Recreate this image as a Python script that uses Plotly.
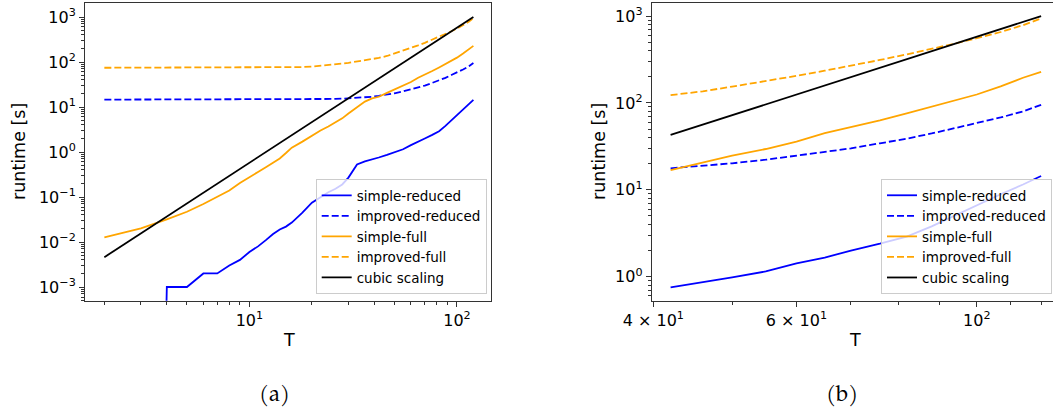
import plotly.graph_objects as go
import numpy as np

# ---------------- data ----------------
T = [2, 3, 4, 5, 6, 7, 8, 9, 10, 11, 12, 13, 14, 15, 16, 18, 20, 22, 24, 26, 28, 30,
     33, 36, 39, 42, 46, 50, 55, 60, 65, 70, 76, 82, 88, 94, 100, 107, 114, 120]

simple_reduced = [0, 0, 0.001, 0.001, 0.002, 0.002, 0.003, 0.004, 0.006, 0.008, 0.011,
                  0.015, 0.019, 0.022, 0.027, 0.045, 0.075, 0.10, 0.128, 0.152, 0.19, 0.27,
                  0.53, 0.62, 0.70, 0.755, 0.86, 0.98, 1.15, 1.42, 1.66, 2.0, 2.4, 2.9,
                  3.8, 5.1, 6.6, 8.9, 11.5, 14.4]

improved_reduced = [14.6, 14.6, 14.6, 14.6, 14.6, 14.6, 14.6, 14.6, 14.6, 14.6, 14.6,
                    14.6, 14.6, 14.6, 14.6, 14.7, 14.8, 14.9, 15.0, 15.1, 15.3, 15.5,
                    15.8, 16.3, 16.9, 17.7, 18.8, 20.2, 22.2, 24.6, 27.2, 30.0, 34.3, 38.8,
                    44.5, 51.5, 58.5, 68, 80, 95]

simple_full = [0.0127, 0.020, 0.032, 0.047, 0.070, 0.100, 0.14, 0.205, 0.27, 0.36, 0.46,
               0.58, 0.72, 0.95, 1.25, 1.7, 2.3, 3.0, 3.7, 4.6, 5.6, 7.2,
               10.0, 13.2, 15.5, 16.9, 20.6, 24.8, 29.5, 35.9, 44.8, 52.2, 63, 75.7,
               90, 107, 125, 155, 195, 228]

improved_full = [74.5, 74.5, 74.5, 74.5, 74.5, 74.5, 74.5, 74.5, 74.5, 74.5, 74.6,
                 74.7, 74.8, 75.1, 75.6, 77.2, 79.3, 82, 85, 88.5, 92, 96,
                 102, 108, 115, 123, 136, 154, 178, 205, 235, 267, 312, 362,
                 418, 482, 555, 655, 785, 940]

cubic_T = [2, 42, 120]
cubic_scaling = [0.0046, 42.8, 1000]

names = ["simple-reduced", "improved-reduced", "simple-full", "improved-full", "cubic scaling"]

y_ticks_a = [1e-3, 1e-2, 1e-1, 1, 10, 100, 1000]
y_ticktext_a = ["10<sup>−3</sup>", "10<sup>−2</sup>", "10<sup>−1</sup>", "10<sup>0</sup>",
                "10<sup>1</sup>", "10<sup>2</sup>", "10<sup>3</sup>"]
x_ticks_a = [10, 100]
x_ticktext_a = ["10<sup>1</sup>", "10<sup>2</sup>"]
y_ticks_b = [1, 10, 100, 1000]
y_ticktext_b = ["10<sup>0</sup>", "10<sup>1</sup>", "10<sup>2</sup>", "10<sup>3</sup>"]
x_ticks_b = [40, 60, 100]
x_ticktext_b = ["4 × 10<sup>1</sup>", "6 × 10<sup>1</sup>", "10<sup>2</sup>"]

# ---------------- styling ----------------
BLUE = "#0000ff"
ORANGE = "#ffa500"
BLACK = "#000000"
LW = 1.8
DASH = "7px,3px"
FONT = "DejaVu Sans"
TICK_FS = 16
LABEL_FS = 17.5
LEGEND_FS = 13.5

T_arr = np.array(T, dtype=float)


def clip_pos(v):
    v = np.array(v, dtype=float)
    # like matplotlib's log clipping: non-positive values go far below the axis
    return np.where(v > 0, v, 1e-30)


series = [
    (simple_reduced, BLUE, "solid"),
    (improved_reduced, BLUE, DASH),
    (simple_full, ORANGE, "solid"),
    (improved_full, ORANGE, DASH),
]

fig = go.Figure()

mask_b = T_arr >= 42
cT = np.array(cubic_T, dtype=float)
cV = np.array(cubic_scaling, dtype=float)

for panel, (xa, ya, leg) in enumerate([("x", "y", "legend"), ("x2", "y2", "legend2")]):
    for (vals, col, dash), nm in zip(series, names[:4]):
        v = clip_pos(vals)
        xs, ys = (T_arr, v) if panel == 0 else (T_arr[mask_b], v[mask_b])
        fig.add_trace(go.Scatter(x=xs, y=ys, mode="lines", name=nm,
                                 line=dict(color=col, width=LW, dash=dash),
                                 xaxis=xa, yaxis=ya, legend=leg))
    cm = cT >= (2 if panel == 0 else 42)
    fig.add_trace(go.Scatter(x=cT[cm], y=cV[cm], mode="lines", name=names[4],
                             line=dict(color=BLACK, width=LW),
                             xaxis=xa, yaxis=ya, legend=leg))

W, H = 1053, 414
y_dom = [(H - 300.7) / H, (H - 3) / H]


def minor_vals(lo, hi):
    out = []
    for e in range(lo, hi):
        for k in range(2, 10):
            out.append(k * 10.0 ** e)
    return out


axis_common = dict(type="log", showgrid=False, zeroline=False, showline=True,
                   linecolor="#333333", linewidth=1, mirror=True, ticks="outside",
                   ticklen=5, tickwidth=1, tickcolor="#333333", tickmode="array",
                   automargin=False,
                   tickfont=dict(family=FONT, size=TICK_FS, color="black"))

legend_common = dict(bgcolor="rgba(255,255,255,0.8)", bordercolor="#cccccc", borderwidth=1,
                     font=dict(family=FONT, size=LEGEND_FS, color="black"), itemwidth=30,
                     tracegroupgap=0)

fig.update_layout(
    template="none",
    width=W, height=H,
    margin=dict(l=0, r=0, t=0, b=0, pad=0, autoexpand=False),
    paper_bgcolor="white", plot_bgcolor="white",
    font=dict(family=FONT, size=13, color="black"),
    xaxis=dict(axis_common, domain=[85 / W, 491 / W], range=[0.2078, 2.164],
               tickvals=x_ticks_a, ticktext=x_ticktext_a, anchor="y",
               minor=dict(ticks="outside", ticklen=3, tickcolor="#333333",
                          tickvals=minor_vals(0, 2))),
    yaxis=dict(axis_common, domain=y_dom, range=[-3.304, 3.311],
               tickvals=y_ticks_a, ticktext=y_ticktext_a, anchor="x",
               minor=dict(ticks="outside", ticklen=3, tickcolor="#333333",
                          tickvals=minor_vals(-4, 3))),
    xaxis2=dict(axis_common, domain=[651.7 / W, 1.0], range=[1.600, 2.0938],
                tickvals=x_ticks_b, ticktext=x_ticktext_b, anchor="y2",
                minor=dict(ticks="outside", ticklen=3, tickcolor="#333333",
                           tickvals=[50, 70, 80, 90, 110, 120])),
    yaxis2=dict(axis_common, domain=y_dom, range=[-0.276, 3.150],
                tickvals=y_ticks_b, ticktext=y_ticktext_b, anchor="x2",
                minor=dict(ticks="outside", ticklen=3, tickcolor="#333333",
                           tickvals=minor_vals(-1, 3))),
    legend=dict(legend_common, x=486.7 / W, xanchor="right", y=(H - 294) / H,
                yanchor="bottom"),
    legend2=dict(legend_common, x=1052 / W, xanchor="right", y=(H - 294) / H,
                 yanchor="bottom"),
    showlegend=True,
)

ann = [
    dict(text="runtime [s]", x=19 / W, y=(H - 152) / H, textangle=-90),
    dict(text="runtime [s]", x=599 / W, y=(H - 152) / H, textangle=-90),
    dict(text="T", x=289 / W, y=(H - 340) / H),
    dict(text="T", x=855 / W, y=(H - 340) / H),
]
for a in ann:
    fig.add_annotation(xref="paper", yref="paper", showarrow=False,
                       xanchor="center", yanchor="middle",
                       font=dict(family=FONT, size=LABEL_FS, color="black"), **a)

for txt, xc in [("(a)", 275), ("(b)", 842)]:
    fig.add_annotation(text=txt, xref="paper", yref="paper", x=xc / W, y=(H - 395) / H,
                       showarrow=False, xanchor="center", yanchor="middle",
                       font=dict(family="TeX Gyre Pagella, Palatino, Liberation Serif, serif",
                                 size=22, color="black"))

fig.write_html("out.html")
